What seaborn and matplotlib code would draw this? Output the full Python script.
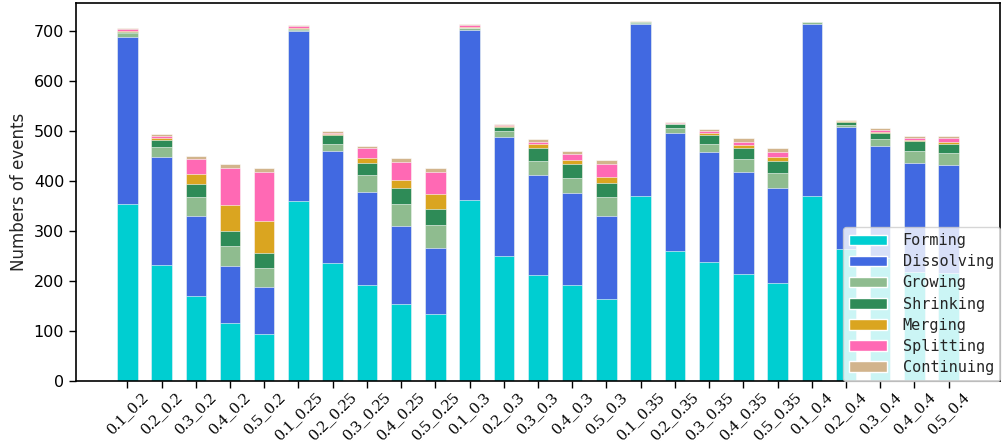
import pandas as pd
import seaborn as sns
import matplotlib.pyplot as plt
from matplotlib.patches import Patch

labels = ['0.1_0.2', '0.2_0.2', '0.3_0.2', '0.4_0.2', '0.5_0.2',
          '0.1_0.25', '0.2_0.25', '0.3_0.25', '0.4_0.25', '0.5_0.25',
          '0.1_0.3', '0.2_0.3', '0.3_0.3', '0.4_0.3', '0.5_0.3',
          '0.1_0.35', '0.2_0.35', '0.3_0.35', '0.4_0.35', '0.5_0.35',
          '0.1_0.4', '0.2_0.4', '0.3_0.4', '0.4_0.4', '0.5_0.4']

forming = [354, 232, 170, 117, 95, 360, 237, 192, 155, 134, 362, 251, 212, 192, 165,
           371, 260, 238, 214, 197, 371, 265, 247, 219, 217]
dissolving = [335, 217, 160, 113, 94, 340, 224, 187, 155, 133, 341, 238, 201, 184, 166,
              344, 237, 220, 204, 190, 343, 244, 224, 218, 215]
growing = [8, 20, 38, 40, 38, 3, 14, 34, 44, 45, 3, 12, 28, 30, 38,
           2, 9, 16, 26, 30, 4, 4, 13, 23, 24]
shrinking = [2, 14, 27, 31, 30, 2, 18, 23, 32, 33, 1, 8, 26, 28, 28,
             1, 8, 19, 23, 23, 0, 6, 13, 20, 19]
merging = [1, 3, 20, 51, 63, 1, 2, 10, 16, 29, 1, 1, 8, 9, 12,
           0, 1, 4, 5, 8, 0, 1, 1, 2, 3]
splitting = [4, 5, 30, 75, 99, 5, 2, 20, 36, 44, 4, 3, 4, 12, 26,
             1, 1, 3, 7, 11, 0, 1, 4, 5, 8]
continuing = [2, 3, 6, 8, 8, 2, 3, 5, 8, 9, 2, 2, 6, 6, 7,
              1, 2, 4, 7, 7, 1, 2, 4, 4, 4]

series = ['Forming', 'Dissolving', 'Growing', 'Shrinking', 'Merging', 'Splitting', 'Continuing']
colors = ['darkturquoise', 'royalblue', 'darkseagreen', 'seagreen', 'goldenrod', 'hotpink', 'tan']

df = pd.DataFrame({'Forming': forming, 'Dissolving': dissolving, 'Growing': growing,
                   'Shrinking': shrinking, 'Merging': merging, 'Splitting': splitting,
                   'Continuing': continuing}, index=labels)
cum = df[series].cumsum(axis=1)

sns.set_style('ticks')
fig, ax = plt.subplots(figsize=(10.03, 4.45), dpi=100)
fig.subplots_adjust(left=76/1003, right=1000/1003, bottom=1-381/445, top=1-3/445)

# stacked bars: draw cumulative totals from the top layer down
for name, col in reversed(list(zip(series, colors))):
    sns.barplot(x=labels, y=cum[name].values, color=col, saturation=1, width=0.6,
                edgecolor='white', linewidth=0.4, ax=ax)

ax.set_xlim(-1.5, 25.5)
ax.set_ylim(0, 756)
ax.set_yticks(range(0, 701, 100))
ax.set_ylabel('Numbers of events', fontsize=12, family='DejaVu Sans')
ax.tick_params(axis='y', labelsize=11.5, length=5, width=1, colors='black')
ax.tick_params(axis='x', length=5, width=1, colors='black', pad=1)
ax.set_xticks(range(len(labels)))
ax.set_xticklabels(labels, rotation=45, ha='center', fontsize=12.5, family='Liberation Serif')
for s in ax.spines.values():
    s.set_color('black')
    s.set_linewidth(1.2)

handles = [Patch(facecolor=c, label=s) for s, c in zip(series, colors)]
ax.legend(handles=handles, loc='lower right', borderaxespad=0, frameon=True,
          framealpha=0.8, edgecolor='0.8', fancybox=True,
          prop={'family': 'DejaVu Sans Mono', 'size': 11},
          handlelength=2.5, labelspacing=0.4, handletextpad=1.0)

plt.savefig('out.png', dpi=100)
